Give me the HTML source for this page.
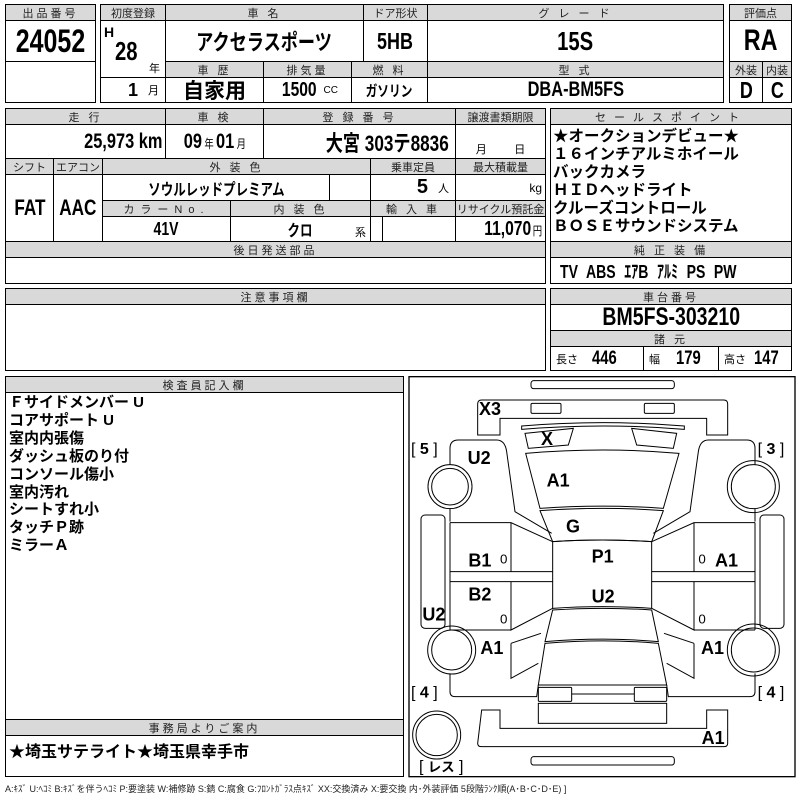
<!DOCTYPE html>
<html><head><meta charset="utf-8"><style>
body{margin:0;width:800px;height:800px;background:#fff;position:relative;overflow:hidden;font-family:"Liberation Sans","Noto Sans CJK JP",sans-serif;color:#000}
.c{position:absolute;box-sizing:border-box;border:1px solid #000;display:flex;align-items:center;justify-content:center;white-space:nowrap;overflow:hidden}
.h{background:#d9d9d9;font-size:11px;letter-spacing:3px;color:#222}
.v{background:#fff;font-weight:bold;font-size:20px}
.t{position:absolute;white-space:nowrap;font-weight:bold}
.n{display:inline-block;transform:scaleX(.78)}
.r{transform-origin:right center}
.l{transform-origin:left center}
</style></head><body>
<div class="c h" style="left:5px;top:4px;width:91px;height:17px">出品番号</div>
<div class="c v" style="left:5px;top:20px;width:91px;height:42px;font-size:32px"><span class="n">24052</span></div>
<div class="c v" style="left:5px;top:61px;width:91px;height:42px"></div>
<div class="c h" style="left:100px;top:4px;width:66px;height:17px;letter-spacing:0">初度登録</div>
<div class="c h" style="left:165px;top:4px;width:199px;height:17px">車 名</div>
<div class="c h" style="left:363px;top:4px;width:65px;height:17px;letter-spacing:0">ドア形状</div>
<div class="c h" style="left:427px;top:4px;width:297px;height:17px">グ レ ー ド</div>
<div class="c v" style="left:100px;top:20px;width:66px;height:58px"></div>
<div class="t" style="left:104px;top:24px;font-size:14px">H</div>
<div class="t" style="left:115px;top:36px;font-size:26px"><span class="n l">28</span></div>
<div class="t" style="left:149px;top:60px;font-size:11px;font-weight:normal">年</div>
<div class="c v" style="left:165px;top:20px;width:199px;height:42px;font-size:22px"><span class="n">アクセラスポーツ</span></div>
<div class="c v" style="left:363px;top:20px;width:65px;height:42px;font-size:23px"><span class="n">5HB</span></div>
<div class="c v" style="left:427px;top:20px;width:297px;height:42px;font-size:26px"><span class="n">15S</span></div>
<div class="c h" style="left:165px;top:61px;width:99px;height:17px">車 歴</div>
<div class="c h" style="left:263px;top:61px;width:89px;height:17px">排気量</div>
<div class="c h" style="left:351px;top:61px;width:77px;height:17px">燃 料</div>
<div class="c h" style="left:427px;top:61px;width:297px;height:17px">型 式</div>
<div class="c v" style="left:100px;top:77px;width:66px;height:26px;justify-content:flex-end;padding-right:6px;font-size:18px">1<span style="font-size:11px;font-weight:normal;margin-left:10px">月</span></div>
<div class="c v" style="left:165px;top:77px;width:99px;height:26px;font-size:21px">自家用</div>
<div class="c v" style="left:263px;top:77px;width:89px;height:26px;font-size:20px"><span class="n">1500</span><span style="font-size:10px;font-weight:normal;margin-left:2px">CC</span></div>
<div class="c v" style="left:351px;top:77px;width:77px;height:26px;font-size:15px"><span class="n">ガソリン</span></div>
<div class="c v" style="left:427px;top:77px;width:297px;height:26px;font-size:21px"><span class="n">DBA-BM5FS</span></div>
<div class="c h" style="left:729px;top:4px;width:63px;height:17px;letter-spacing:0">評価点</div>
<div class="c v" style="left:729px;top:20px;width:63px;height:42px;font-size:30px"><span class="n">RA</span></div>
<div class="c h" style="left:729px;top:61px;width:34px;height:17px;letter-spacing:0">外装</div>
<div class="c h" style="left:762px;top:61px;width:30px;height:17px;letter-spacing:0">内装</div>
<div class="c v" style="left:729px;top:77px;width:34px;height:26px;font-size:23px"><span class="n">D</span></div>
<div class="c v" style="left:762px;top:77px;width:30px;height:26px;font-size:23px"><span class="n">C</span></div>
<div class="c h" style="left:5px;top:108px;width:161px;height:17px">走 行</div>
<div class="c h" style="left:165px;top:108px;width:99px;height:17px">車 検</div>
<div class="c h" style="left:263px;top:108px;width:193px;height:17px">登 録 番 号</div>
<div class="c h" style="left:455px;top:108px;width:91px;height:17px;letter-spacing:0">譲渡書類期限</div>
<div class="c v" style="left:5px;top:124px;width:161px;height:35px;justify-content:flex-end;padding-right:3px;font-size:21px"><span class="n r">25,973 km</span></div>
<div class="c v" style="left:165px;top:124px;width:99px;height:35px;font-size:21px"><span class="n">09<span style="font-size:12px;font-weight:normal;margin:0 3px">年</span>01<span style="font-size:12px;font-weight:normal;margin-left:3px">月</span></span></div>
<div class="c v" style="left:263px;top:124px;width:193px;height:35px;justify-content:flex-end;padding-right:6px;font-size:22px"><span class="n r">大宮 303テ8836</span></div>
<div class="c v" style="left:455px;top:124px;width:91px;height:35px;font-size:11px;font-weight:normal;padding-top:14px">月&nbsp;&nbsp;&nbsp;&nbsp;&nbsp;&nbsp;&nbsp;&nbsp;&nbsp;日</div>
<div class="c h" style="left:5px;top:158px;width:49px;height:17px;letter-spacing:0">シフト</div>
<div class="c h" style="left:53px;top:158px;width:50px;height:17px;letter-spacing:0">エアコン</div>
<div class="c h" style="left:102px;top:158px;width:269px;height:17px">外 装 色</div>
<div class="c h" style="left:370px;top:158px;width:86px;height:17px;letter-spacing:0">乗車定員</div>
<div class="c h" style="left:455px;top:158px;width:91px;height:17px;letter-spacing:0">最大積載量</div>
<div class="c v" style="left:5px;top:174px;width:49px;height:68px;font-size:22px"><span class="n">FAT</span></div>
<div class="c v" style="left:53px;top:174px;width:50px;height:68px;font-size:22px"><span class="n">AAC</span></div>
<div class="c v" style="left:102px;top:174px;width:228px;height:27px;font-size:16px"><span class="n">ソウルレッドプレミアム</span></div>
<div class="c v" style="left:329px;top:174px;width:42px;height:27px"></div>
<div class="c v" style="left:370px;top:174px;width:86px;height:27px;justify-content:flex-end;padding-right:6px">5<span style="font-size:11px;font-weight:normal;margin-left:10px">人</span></div>
<div class="c v" style="left:455px;top:174px;width:91px;height:27px;justify-content:flex-end;padding-right:3px;font-size:12px;font-weight:normal">kg</div>
<div class="c h" style="left:102px;top:200px;width:129px;height:17px;letter-spacing:6px">カラーNo.</div>
<div class="c h" style="left:230px;top:200px;width:141px;height:17px">内 装 色</div>
<div class="c h" style="left:370px;top:200px;width:86px;height:17px">輸 入 車</div>
<div class="c h" style="left:455px;top:200px;width:91px;height:17px;letter-spacing:0">リサイクル預託金</div>
<div class="c v" style="left:102px;top:216px;width:129px;height:26px;font-size:18px"><span class="n">41V</span></div>
<div class="c v" style="left:230px;top:216px;width:141px;height:26px;font-size:16px"><span class="n">クロ</span></div>
<div class="t" style="left:355px;top:224px;font-size:11px;font-weight:normal">系</div>
<div class="c v" style="left:370px;top:216px;width:13px;height:26px"></div>
<div class="c v" style="left:382px;top:216px;width:74px;height:26px"></div>
<div class="c v" style="left:455px;top:216px;width:91px;height:26px;justify-content:flex-end;padding-right:3px;font-size:20px"><span class="n r">11,070<span style="font-size:12px;font-weight:normal;margin-left:2px">円</span></span></div>
<div class="c h" style="left:5px;top:241px;width:541px;height:17px">後日発送部品</div>
<div class="c v" style="left:5px;top:257px;width:541px;height:27px"></div>
<div class="c h" style="left:550px;top:108px;width:242px;height:17px;letter-spacing:8px">セールスポイント</div>
<div class="c v" style="left:550px;top:124px;width:242px;height:118px"></div>
<div class="t" style="left:553px;top:128px;font-size:15.5px;line-height:18px">★オークションデビュー★<br>１６インチアルミホイール<br>バックカメラ<br>ＨＩＤヘッドライト<br>クルーズコントロール<br>ＢＯＳＥサウンドシステム</div>
<div class="c h" style="left:550px;top:241px;width:242px;height:17px">純 正 装 備</div>
<div class="c v" style="left:550px;top:257px;width:242px;height:27px;justify-content:flex-start;padding-left:9px;font-size:18px;word-spacing:6px"><span class="n l">TV ABS ｴｱB ｱﾙﾐ PS PW</span></div>
<div class="c h" style="left:5px;top:288px;width:541px;height:17px">注意事項欄</div>
<div class="c v" style="left:5px;top:304px;width:541px;height:67px"></div>
<div class="c h" style="left:550px;top:288px;width:242px;height:17px">車台番号</div>
<div class="c v" style="left:550px;top:304px;width:242px;height:27px;font-size:25px"><span class="n">BM5FS-303210</span></div>
<div class="c h" style="left:550px;top:330px;width:242px;height:17px">諸 元</div>
<div class="c v" style="left:550px;top:346px;width:94px;height:25px;font-size:19px;justify-content:flex-start;padding-left:5px"><span style="font-size:11px;font-weight:normal;margin-right:14px">長さ</span><span class="n l">446</span></div>
<div class="c v" style="left:643px;top:346px;width:76px;height:25px;font-size:19px;justify-content:flex-start;padding-left:5px"><span style="font-size:11px;font-weight:normal;margin-right:16px">幅</span><span class="n l">179</span></div>
<div class="c v" style="left:718px;top:346px;width:74px;height:25px;font-size:19px;justify-content:flex-start;padding-left:5px"><span style="font-size:11px;font-weight:normal;margin-right:8px">高さ</span><span class="n l">147</span></div>
<div class="c v" style="left:5px;top:376px;width:399px;height:401px"></div>
<div class="c h" style="left:5px;top:376px;width:399px;height:17px">検査員記入欄</div>
<div class="t" style="left:9px;top:394px;font-size:15px;line-height:17.9px">Ｆサイドメンバー U<br>コアサポート U<br>室内内張傷<br>ダッシュ板のり付<br>コンソール傷小<br>室内汚れ<br>シートすれ小<br>タッチＰ跡<br>ミラーＡ</div>
<div class="c h" style="left:5px;top:719px;width:399px;height:17px">事務局よりご案内</div>
<div class="t" style="left:9px;top:738px;font-size:16px">★埼玉サテライト★埼玉県幸手市</div>
<div style="position:absolute;left:5px;top:782px;font-size:9px;white-space:nowrap;color:#222">A:ｷｽﾞ U:ﾍｺﾐ B:ｷｽﾞを伴うﾍｺﾐ P:要塗装 W:補修跡 S:錆 C:腐食 G:ﾌﾛﾝﾄｶﾞﾗｽ点ｷｽﾞ XX:交換済み X:要交換 内･外装評価 5段階ﾗﾝｸ順(A･B･C･D･E) ]</div>
<svg style="position:absolute;left:405px;top:376px" width="395" height="414" viewBox="0 -12 1185 1242">
<g fill="none" stroke="#000" stroke-width="3">
<rect x="12" y="-10" width="1158" height="1200" stroke-width="4"/>
<rect x="378" y="2" width="430" height="24" rx="8"/>
<rect x="378" y="1130" width="430" height="25" rx="8"/>
<path d="M230 60 H956 Q968 60 968 72 V165 H905 V115 H285 V165 H218 V72 Q218 60 230 60Z"/>
<rect x="378" y="70" width="90" height="30" rx="4"/>
<rect x="718" y="70" width="90" height="30" rx="4"/>
<path d="M350 138 Q595 118 838 138 L838 148 Q595 128 350 148Z"/>
<path d="M360 160 L505 145 L490 195 L370 205Z"/>
<path d="M680 145 L815 160 L805 205 L695 195Z"/>
<path d="M362 220 Q595 200 822 220 L775 385 Q595 372 405 385Z"/>
<path d="M405 392 Q595 378 775 392 L740 485 Q595 475 443 485Z"/>
<path d="M443 485 Q595 475 740 485 V685 Q595 675 443 685Z"/>
<path d="M443 690 Q595 680 740 690 L760 785 Q595 770 420 785Z"/>
<path d="M420 790 Q595 775 760 790 L785 915 H400Z"/>
<rect x="400" y="922" width="100" height="42" rx="3"/>
<rect x="688" y="922" width="97" height="42" rx="3"/>
<line x1="500" y1="942" x2="688" y2="942"/>
<rect x="400" y="970" width="385" height="60"/>
<path d="M230 990 H285 V1045 H905 V990 H968 V1090 Q968 1100 956 1100 H230 Q218 1100 218 1090Z"/>
<path d="M135 255 V205 Q135 180 160 180 H275 Q300 180 305 215 L330 395 L440 460"/>
<path d="M135 385 V425"/>
<path d="M135 428 H318 L443 485 M318 428 V575 M135 575 H443 M135 605 H443 M318 605 V750 L443 685 M135 750 H318 M135 428 V750"/>
<path d="M318 790 L408 760 M318 790 V895 L400 850 M135 880 V935 Q135 950 150 950 H395 L400 915"/>
<rect x="48" y="405" width="72" height="340" rx="12"/>
<circle cx="135" cy="320" r="66"/><circle cx="135" cy="320" r="55"/>
<circle cx="140" cy="810" r="72"/><circle cx="140" cy="810" r="60"/>
<circle cx="95" cy="1065" r="72"/><circle cx="95" cy="1065" r="62"/>
<path d="M1050 255 V205 Q1050 180 1025 180 H910 Q885 180 880 215 L855 395 L745 460"/>
<path d="M1050 385 V425"/>
<path d="M1050 428 H867 L740 485 M867 428 V575 M1050 575 H740 M1050 605 H740 M867 605 V750 L740 685 M1050 750 H867 M1050 428 V750"/>
<path d="M867 790 L777 760 M867 790 V895 L785 850 M1050 880 V935 Q1050 950 1035 950 H790 L785 915"/>
<rect x="1065" y="405" width="72" height="340" rx="12"/>
<circle cx="1045" cy="320" r="78"/><circle cx="1045" cy="320" r="66"/>
<circle cx="1045" cy="810" r="78"/><circle cx="1045" cy="810" r="66"/>
</g>
<g font-family="Liberation Sans, Noto Sans CJK JP, sans-serif" font-weight="bold" font-size="54">
<text x="222" y="105">X3</text><text x="408" y="195">X</text>
<text x="188" y="252">U2</text><text x="425" y="320">A1</text>
<text x="483" y="457">G</text><text x="560" y="548">P1</text>
<text x="190" y="560">B1</text><text x="930" y="560">A1</text>
<text x="190" y="662">B2</text><text x="560" y="668">U2</text>
<text x="52" y="722">U2</text><text x="226" y="822">A1</text>
<text x="888" y="822">A1</text><text x="890" y="1092">A1</text>
<g font-weight="normal" font-size="40"><text x="285" y="550">0</text><text x="880" y="550">0</text><text x="285" y="730">0</text><text x="880" y="730">0</text></g>
<g font-size="48" font-weight="normal"><text x="18" y="222">[ <tspan font-weight="bold">5</tspan> ]</text><text x="1058" y="222">[ <tspan font-weight="bold">3</tspan> ]</text>
<text x="18" y="952">[ <tspan font-weight="bold">4</tspan> ]</text><text x="1058" y="952">[ <tspan font-weight="bold">4</tspan> ]</text>
<text x="42" y="1175">[ <tspan font-size="40" font-weight="bold">レス</tspan> ]</text></g>
</g>
</svg>
</body></html>
